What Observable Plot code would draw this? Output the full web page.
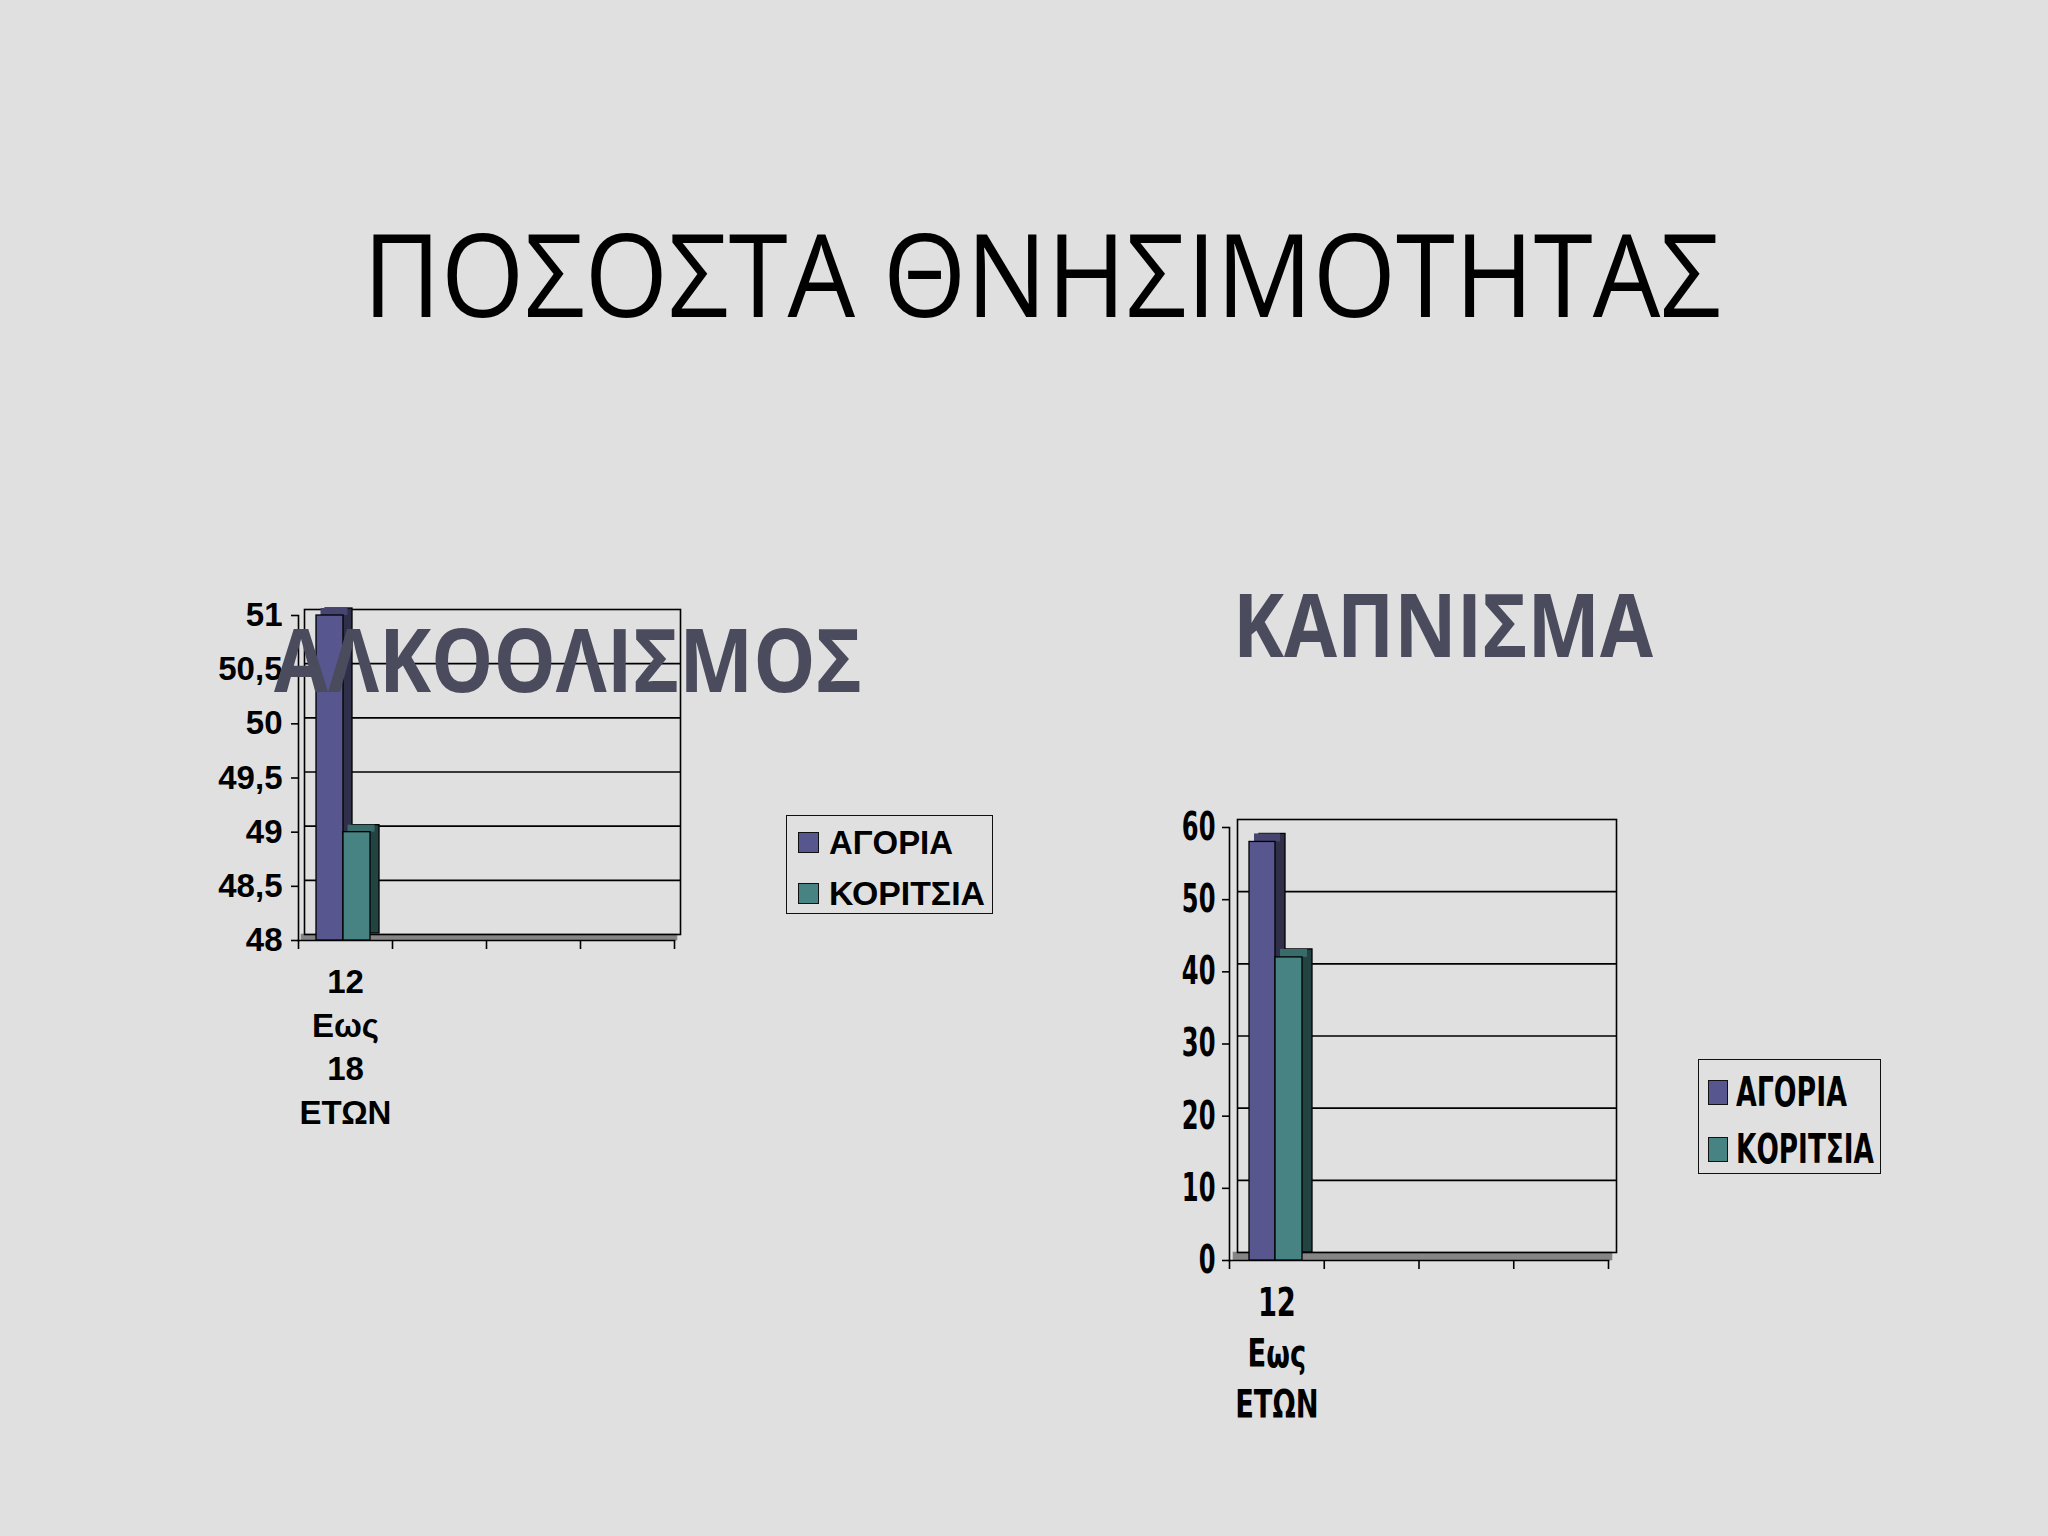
<!DOCTYPE html>
<html><head><meta charset="utf-8">
<script src="https://cdn.jsdelivr.net/npm/d3@7"></script>
<script src="https://cdn.jsdelivr.net/npm/@observablehq/plot@0.6"></script>
<style>
html,body{margin:0;padding:0;background:#e0e0e0;}
#page{position:relative;width:2048px;height:1536px;background:#e0e0e0;overflow:hidden;}
.abs{position:absolute;white-space:nowrap;}
.fit{display:inline-block;transform-origin:0 0;}
.legend{position:absolute;border:1.5px solid #111;box-sizing:border-box;}
.sw{position:absolute;border:1.5px solid #111;box-sizing:border-box;}
</style></head><body><div id="page"></div>
<script>
// ---------- data ----------
const mainTitle = "ΠΟΣΟΣΤΑ ΘΝΗΣΙΜΟΤΗΤΑΣ";
const series = ["ΑΓΟΡΙΑ", "ΚΟΡΙΤΣΙΑ"];
const seriesColors = ["#58568e", "#488384"];
const seriesSide = ["#2f2f4a", "#234343"];
const seriesTop = ["#46456f", "#3a6b6b"];

const alcoholTitle = "ΑΛΚΟΟΛΙΣΜΟΣ";
const alcoholSlots = ["a1", "a2", "a3", "a4"];
const alcoholTickLabels = ["12\nΕως\n18\nΕΤΩΝ", "", "", ""];
const alcoholValues = [51, 49];
const alcoholYTicks = [48, 48.5, 49, 49.5, 50, 50.5, 51];

const smokingTitle = "ΚΑΠΝΙΣΜΑ";
const smokingSlots = ["k1", "k2", "k3", "k4"];
const smokingTickLabels = ["12\nΕως\nΕΤΩΝ", "", "", ""];
const smokingValues = [58, 42];
const smokingYTicks = [0, 10, 20, 30, 40, 50, 60];

const page = document.getElementById("page");
const NARROW = '"DejaVu Sans",sans-serif';
const ARIAL = '"Liberation Sans",Arial,sans-serif';

function squeezeText(nodes, k) {
  nodes.forEach(t => {
    const parts = t.querySelectorAll("tspan");
    (parts.length ? Array.from(parts) : [t]).forEach(el => {
      const len = el.getComputedTextLength();
      if (len > 0) {
        el.setAttribute("textLength", (len * k).toFixed(2));
        el.setAttribute("lengthAdjust", "spacingAndGlyphs");
      }
    });
  });
}

function makeChart(c) {
  const rows = series.map((s, i) => ({slot: c.slots[0], series: s, value: c.values[i], i}));
  const base = c.yTicks[0];
  const bw = c.plotW / c.slots.length;
  const marks = [];
  // floor
  marks.push(Plot.barY(c.slots, {x: d => d, y1: base, y2: base, insetTop: -c.wall, dx: c.wall / 2,
    fill: "#858585", stroke: "#858585", strokeWidth: 0.6}));
  // back wall gridlines and frame
  marks.push(Plot.ruleY(c.yTicks.slice(1, -1), {dx: c.wall, dy: -c.wall, stroke: "#000", strokeWidth: 1.6}));
  marks.push(Plot.frame({dx: c.wall, dy: -c.wall, stroke: "#000", strokeWidth: 1.6}));
  // side wall front edge and floor front edge
  marks.push(Plot.frame({anchor: "left", stroke: "#000", strokeWidth: 1.6}));
  marks.push(Plot.frame({anchor: "bottom", stroke: "#000", strokeWidth: 1.6}));
  // category boundary ticks
  marks.push(Plot.ruleX(c.slots, {x: d => d, y1: base, y2: base, insetBottom: -9, dx: -bw / 2, stroke: "#000", strokeWidth: 1.6}));
  marks.push(Plot.ruleX(c.slots.slice(-1), {x: d => d, y1: base, y2: base, insetBottom: -9, dx: bw / 2, stroke: "#000", strokeWidth: 1.6}));
  // 3D bars
  series.forEach((s, i) => {
    const d = rows.filter(r => r.i === i);
    const [inL, inR] = c.insets[i];
    marks.push(Plot.barY(d, {x: "slot", y1: base, y2: "value", insetLeft: inL, insetRight: inR,
      dx: c.depthX, dy: c.depthY, fill: seriesSide[i], stroke: "#000", strokeWidth: 1.3}));
    marks.push(Plot.barY(d, {x: "slot", y1: "value", y2: "value", insetTop: c.depthY, insetLeft: inL, insetRight: inR,
      dx: c.depthX / 2, fill: seriesTop[i]}));
    marks.push(Plot.barY(d, {x: "slot", y1: base, y2: "value", insetLeft: inL, insetRight: inR,
      fill: seriesColors[i], stroke: "#000", strokeWidth: 1.3}));
  });
  // axes
  marks.push(Plot.axisY({ticks: c.yTicks, tickFormat: d => String(d).replace(".", ","), tickSize: 7, label: null,
    tickPadding: c.yPad, fontSize: c.fontSize, fontWeight: "bold", fontFamily: c.font, stroke: "#000", strokeWidth: 1.6, fill: "#000"}));
  marks.push(Plot.axisX({tickFormat: d => c.tickLabels[c.slots.indexOf(d)], tickSize: 0, tickPadding: c.xPad, label: null,
    lineHeight: c.lineHeight, fontSize: c.fontSize, fontWeight: "bold", fontFamily: c.font, fill: "#000"}));

  const svg = Plot.plot({
    width: c.marginLeft + c.plotW + c.marginRight,
    height: c.marginTop + c.plotH + c.marginBottom,
    marginLeft: c.marginLeft, marginRight: c.marginRight, marginTop: c.marginTop, marginBottom: c.marginBottom,
    x: {type: "band", domain: c.slots, padding: 0, round: false},
    y: {domain: [c.yTicks[0], c.yTicks[c.yTicks.length - 1]]},
    style: {background: "transparent", overflow: "visible", color: "#000", fontFamily: c.font},
    marks
  });
  svg.style.position = "absolute";
  svg.style.left = c.left + "px";
  svg.style.top = c.top + "px";
  page.appendChild(svg);
  // horizontal compression of the text (narrow chart font)
  if (c.squeezeY !== 1) squeezeText(svg.querySelectorAll('[aria-label^="y-axis"] text'), c.squeezeY);
  if (c.squeezeX !== 1) squeezeText(svg.querySelectorAll('[aria-label^="x-axis"] text'), c.squeezeX);
}

makeChart({
  slots: alcoholSlots, tickLabels: alcoholTickLabels, values: alcoholValues, yTicks: alcoholYTicks,
  left: 180, top: 580, marginLeft: 118, marginRight: 24, marginTop: 35, marginBottom: 200, plotW: 376, plotH: 325,
  wall: 6, depthX: 9, depthY: -7, insets: [[18, 49], [45, 22]],
  yPad: 9, xPad: 21, lineHeight: 1.33, fontSize: 33, font: ARIAL, squeezeY: 1, squeezeX: 1
});
makeChart({
  slots: smokingSlots, tickLabels: smokingTickLabels, values: smokingValues, yTicks: smokingYTicks,
  left: 1100, top: 780, marginLeft: 129, marginRight: 25, marginTop: 47, marginBottom: 200, plotW: 379, plotH: 433,
  wall: 8, depthX: 10, depthY: -8, insets: [[20, 48.75], [46, 21.75]],
  yPad: 7, xPad: 19, lineHeight: 1.31, fontSize: 39, font: NARROW, squeezeY: 0.62, squeezeX: 0.7
});

// ---------- titles ----------
function addText(txt, opts) {
  const div = document.createElement("div");
  div.className = "abs";
  div.style.left = opts.left + "px";
  div.style.top = opts.top + "px";
  div.style.fontFamily = opts.font;
  div.style.fontSize = opts.size + "px";
  div.style.lineHeight = opts.size + "px";
  div.style.fontWeight = opts.weight || "normal";
  div.style.color = opts.color || "#000";
  div.style.zIndex = 5;
  const span = document.createElement("span");
  span.className = "fit";
  span.textContent = txt;
  div.appendChild(span);
  page.appendChild(div);
  if (opts.width) {
    const w = span.getBoundingClientRect().width;
    span.style.transform = `scaleX(${opts.width / w})`;
  }
  return div;
}
addText(mainTitle, {left: 363, top: 215, size: 115, font: '"Open Sans",sans-serif', width: 1358});
addText(alcoholTitle, {left: 274, top: 615, size: 87, font: '"Open Sans",sans-serif', weight: "bold", color: "#4b4b5e", width: 588});
addText(smokingTitle, {left: 1233, top: 580, size: 87, font: '"Open Sans",sans-serif', weight: "bold", color: "#4b4b5e", width: 420});

// ---------- legends ----------
function addLegend(o) {
  const box = document.createElement("div");
  box.className = "legend";
  Object.assign(box.style, {left: o.left + "px", top: o.top + "px", width: o.w + "px", height: o.h + "px"});
  page.appendChild(box);
  series.forEach((s, i) => {
    const cy = o.rows[i];
    const sw = document.createElement("div");
    sw.className = "sw";
    Object.assign(sw.style, {left: o.swX + "px", top: (cy - o.swH / 2) + "px", width: o.swW + "px", height: o.swH + "px", background: seriesColors[i]});
    page.appendChild(sw);
    addText(s, {left: o.textX, top: cy - o.mid * o.size, size: o.size, font: o.font, weight: "bold", width: o.widths[i]});
  });
}
addLegend({left: 786, top: 815, w: 207, h: 99, rows: [842, 893], swX: 798, swW: 21, swH: 21, textX: 829, size: 33, mid: 0.4885, font: ARIAL, widths: [124, 156]});
addLegend({left: 1698, top: 1059, w: 183, h: 115, rows: [1092, 1149], swX: 1708, swW: 20, swH: 25, textX: 1736, size: 40, mid: 0.5, font: NARROW, widths: [111, 138]});
</script></body></html>
